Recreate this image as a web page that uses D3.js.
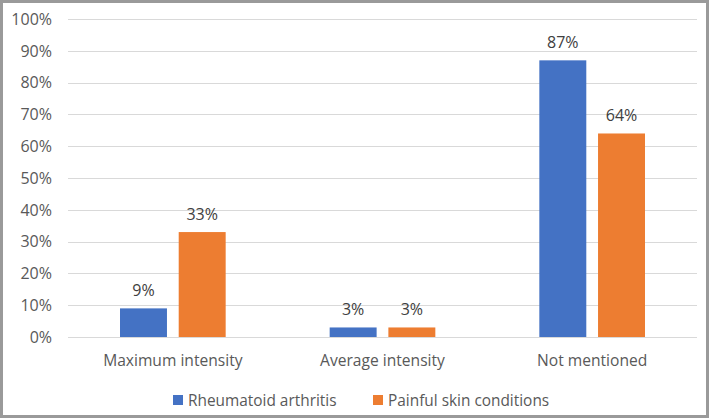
<!DOCTYPE html>
<html><head><meta charset="utf-8">
<script src="https://cdn.jsdelivr.net/npm/d3@7"></script>
<style>html,body{margin:0;padding:0;background:#fff;}svg{display:block;}</style>
</head><body>
<svg id="c" width="709" height="418"></svg>
<script>
const categories = ["Maximum intensity", "Average intensity", "Not mentioned"];
const seriesNames = ["Rheumatoid arthritis", "Painful skin conditions"];
const rheumatoid = [9, 3, 87];
const skin = [33, 3, 64];
const yTicks = [0, 10, 20, 30, 40, 50, 60, 70, 80, 90, 100];
const colors = ["#4472C4", "#ED7D31"];

(function () {
const svg = d3.select("#c");
const W = 709, H = 418;
const font = "'Open Sans', 'Liberation Sans', sans-serif";
const textColor = "#595959";

svg.append("rect").attr("x", 1.5).attr("y", 1.5).attr("width", W - 3).attr("height", H - 3)
  .attr("fill", "#fff").attr("stroke", "#9a9a9a").attr("stroke-width", 3);

const mLeft = 68, mRight = 697, mTop = 19, mBottom = 337;
const y = d3.scaleLinear().domain([0, 100]).range([mBottom, mTop]);
const x0 = d3.scaleBand().domain(categories).range([mLeft, mRight]).paddingInner(0).paddingOuter(0);
const x1 = d3.scaleBand().domain(seriesNames).range([52, x0.bandwidth() - 52]).paddingInner(0.2);

svg.append("g").selectAll("line").data(yTicks).join("line")
  .attr("x1", mLeft).attr("x2", mRight)
  .attr("y1", d => Math.round(y(d)) + 0.5).attr("y2", d => Math.round(y(d)) + 0.5)
  .attr("stroke", "#d9d9d9").attr("stroke-width", 1);

svg.append("g").selectAll("text").data(yTicks).join("text")
  .attr("x", 52).attr("y", d => y(d)).attr("dy", "0.36em")
  .attr("text-anchor", "end").attr("font-family", font).attr("font-size", 16)
  .attr("fill", textColor).text(d => d + "%");

const data = categories.map((c, i) => ({ cat: c, vals: [rheumatoid[i], skin[i]] }));
const groups = svg.append("g").selectAll("g").data(data).join("g")
  .attr("transform", d => `translate(${x0(d.cat)},0)`);

groups.selectAll("rect").data(d => d.vals.map((v, j) => ({ v, s: seriesNames[j], j }))).join("rect")
  .attr("x", d => x1(d.s)).attr("width", x1.bandwidth())
  .attr("y", d => y(d.v)).attr("height", d => y(0) - y(d.v))
  .attr("fill", d => colors[d.j]);

groups.selectAll("text").data(d => d.vals.map((v, j) => ({ v, s: seriesNames[j], j }))).join("text")
  .attr("x", d => x1(d.s) + x1.bandwidth() / 2).attr("y", d => y(d.v) - 12)
  .attr("text-anchor", "middle").attr("font-family", font).attr("font-size", 16)
  .attr("fill", "#404040").text(d => d.v + "%");

svg.append("g").selectAll("text").data(categories).join("text")
  .attr("x", d => x0(d) + x0.bandwidth() / 2).attr("y", 366)
  .attr("text-anchor", "middle").attr("font-family", font).attr("font-size", 15.6)
  .attr("fill", textColor).text(d => d);

const legendX = [173, 373];
const lg = svg.append("g").selectAll("g").data(seriesNames).join("g")
  .attr("transform", (d, i) => `translate(${legendX[i]},395)`);
lg.append("rect").attr("width", 10).attr("height", 10).attr("fill", (d, i) => colors[i]);
lg.append("text").attr("x", 15).attr("y", 5).attr("dy", "0.36em")
  .attr("font-family", font).attr("font-size", 15.4).attr("fill", textColor).text(d => d);
})();
</script>
</body></html>
